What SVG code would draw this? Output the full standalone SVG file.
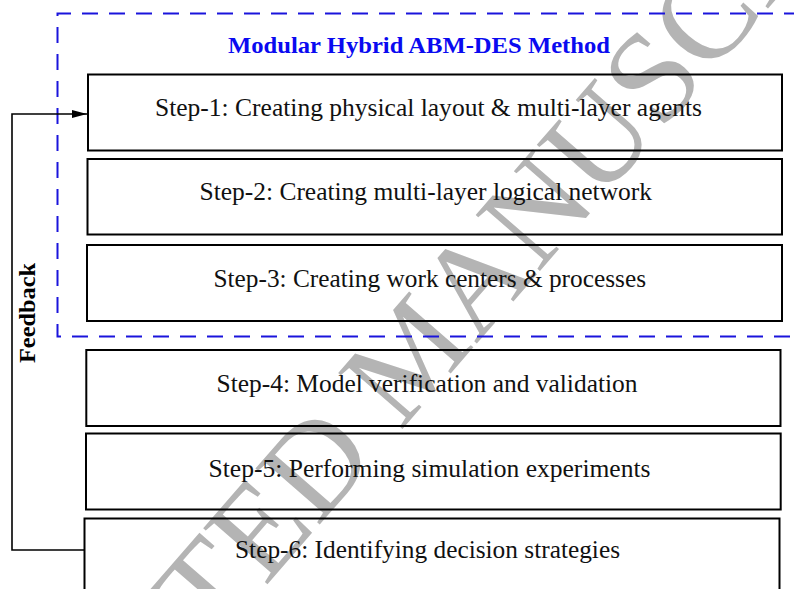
<svg xmlns="http://www.w3.org/2000/svg" width="794" height="589" viewBox="0 0 794 589">
<defs>
<style>
.box{fill:none;stroke:#000;stroke-width:2}
.lbl{font-family:"Liberation Serif",serif;font-size:25px;fill:#111}
.title{font-family:"Liberation Serif",serif;font-size:23.5px;font-weight:bold;fill:#0a0af0}
.fb{font-family:"Liberation Serif",serif;font-size:23px;font-weight:bold;fill:#000}
.dash{fill:none;stroke:#1a14dc;stroke-width:2;stroke-dasharray:16 11}
.wm{font-family:"Liberation Serif",serif;font-size:130px;fill:#b4b4b4}
.conn{fill:none;stroke:#000;stroke-width:1.6}
</style>
<marker id="arr" viewBox="0 0 10 10" refX="10" refY="5" markerWidth="15" markerHeight="8" markerUnits="userSpaceOnUse" orient="auto" preserveAspectRatio="none">
<path d="M0,0 L10,5 L0,10 Z" fill="#000"/>
</marker>
</defs>
<rect width="794" height="589" fill="#fff"/>
<text class="wm" transform="translate(213,647) rotate(-49)" x="-419" y="0">ACCEPTED MANUSCRIPT</text>
<g id="module">
<path class="dash" d="M800,13.5 H57.5 V336.5 H800"/>
<text class="title" x="228" y="53" textLength="382" lengthAdjust="spacingAndGlyphs">Modular Hybrid ABM-DES Method</text>
</g>
<g id="step1"><rect class="box" x="88" y="74.5" width="694" height="76"/><text class="lbl" x="155" y="115.5" textLength="547" lengthAdjust="spacingAndGlyphs">Step-1: Creating physical layout &amp; multi-layer agents</text></g>
<g id="step2"><rect class="box" x="87.5" y="159" width="694.5" height="75.5"/><text class="lbl" x="199.5" y="200" textLength="452.5" lengthAdjust="spacingAndGlyphs">Step-2: Creating multi-layer logical network</text></g>
<g id="step3"><rect class="box" x="87" y="245" width="695" height="76"/><text class="lbl" x="213.5" y="287" textLength="432.5" lengthAdjust="spacingAndGlyphs">Step-3: Creating work centers &amp; processes</text></g>
<g id="step4"><rect class="box" x="86.3" y="350" width="694.2" height="76"/><text class="lbl" x="216.5" y="392" textLength="421" lengthAdjust="spacingAndGlyphs">Step-4: Model verification and validation</text></g>
<g id="step5"><rect class="box" x="86" y="433.5" width="694.7" height="76"/><text class="lbl" x="208.5" y="477" textLength="442" lengthAdjust="spacingAndGlyphs">Step-5: Performing simulation experiments</text></g>
<g id="step6"><rect class="box" x="84.5" y="518.5" width="695" height="100"/><text class="lbl" x="235" y="558" textLength="385" lengthAdjust="spacingAndGlyphs">Step-6: Identifying decision strategies</text></g>
<g id="connectors">
<path class="conn" d="M84.5,550 H12 V114 H87" marker-end="url(#arr)"/>
</g>
<g id="feedback-label"><text class="fb" transform="translate(35,363) rotate(-90)" x="0" y="0" textLength="100" lengthAdjust="spacingAndGlyphs">Feedback</text></g>
</svg>
